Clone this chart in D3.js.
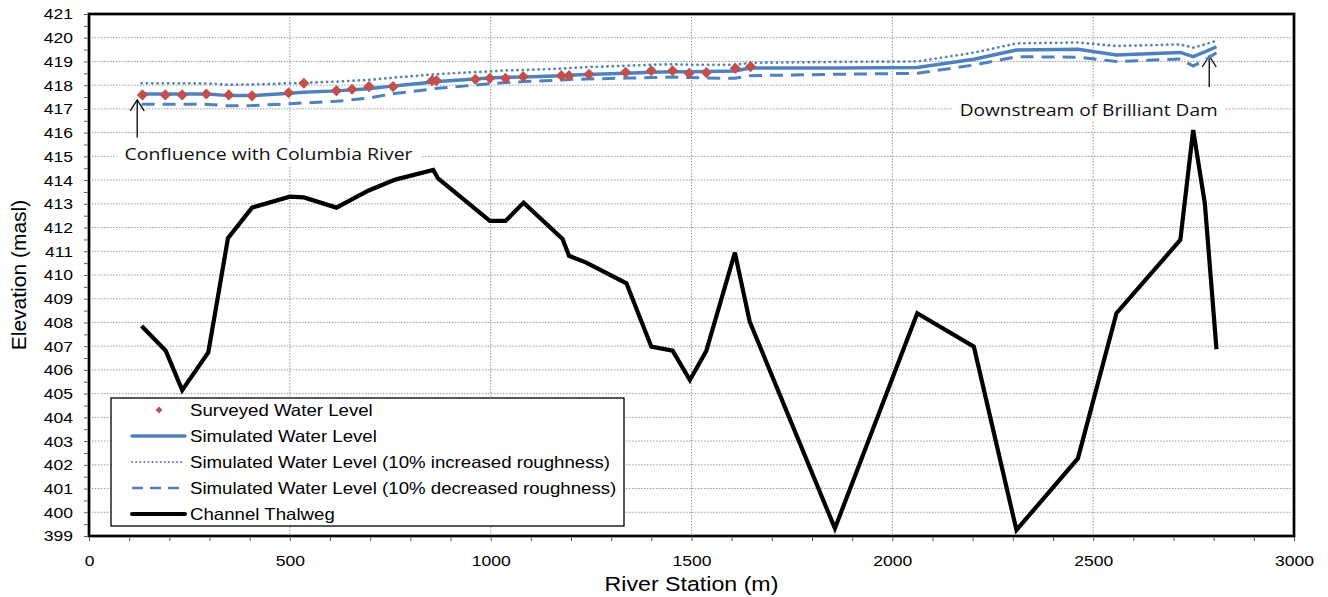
<!DOCTYPE html>
<html>
<head>
<meta charset="utf-8">
<script src="https://cdn.jsdelivr.net/npm/d3@7"></script>
<style>
  html, body { margin: 0; padding: 0; background: #fff; }
  svg { display: block; }
</style>
</head>
<body>
<svg id="chart" width="1328" height="597"></svg>
<script>
// River stations of the model cross-sections (m)
const stations = [131, 191, 232, 297, 346, 406, 500, 535, 616, 695, 749, 765, 857, 869,
  998, 1037, 1082, 1179, 1195, 1238, 1338, 1400, 1453, 1496, 1537, 1608, 1645,
  1857, 2062, 2203, 2309, 2462, 2558, 2717, 2749, 2778, 2807];

// Channel thalweg elevation (masl)
const thalweg = [407.85, 406.81, 405.15, 406.74, 411.55, 412.84, 413.30, 413.27, 412.84,
  413.55, 413.93, 414.03, 414.43, 414.07, 412.28, 412.28, 413.05, 411.52, 410.81, 410.52,
  409.65, 406.98, 406.81, 405.57, 406.81, 410.94, 408.03, 399.32, 408.39, 406.98, 399.25,
  402.27, 408.39, 411.48, 416.11, 413.02, 406.87];

// Simulated water level (masl)
const simulated = [417.63, 417.63, 417.63, 417.63, 417.56, 417.56, 417.66, 417.70, 417.76,
  417.85, 417.95, 417.98, 418.13, 418.16, 418.30, 418.33, 418.35, 418.40, 418.42, 418.45,
  418.50, 418.54, 418.57, 418.57, 418.58, 418.60, 418.72, 418.72, 418.75, 419.09, 419.48,
  419.51, 419.27, 419.38, 419.20, 419.40, 419.62];

// Simulated water level, 10% increased roughness (masl)
const simHigh = [418.08, 418.08, 418.08, 418.07, 418.02, 418.03, 418.08, 418.10, 418.15,
  418.22, 418.30, 418.33, 418.45, 418.47, 418.58, 418.62, 418.64, 418.70, 418.72, 418.76,
  418.82, 418.86, 418.88, 418.86, 418.86, 418.86, 418.94, 418.98, 419.00, 419.37, 419.76,
  419.80, 419.65, 419.72, 419.58, 419.72, 419.87];

// Simulated water level, 10% decreased roughness (masl)
const simLow = [417.20, 417.20, 417.20, 417.19, 417.13, 417.14, 417.22, 417.25, 417.32,
  417.45, 417.62, 417.66, 417.84, 417.87, 418.06, 418.11, 418.15, 418.22, 418.24, 418.26,
  418.30, 418.32, 418.34, 418.32, 418.30, 418.29, 418.40, 418.46, 418.50, 418.85, 419.20,
  419.18, 419.00, 419.10, 418.81, 419.05, 419.37];

// Surveyed water level: stations (m) and elevations (masl)
const surveyStations = [133, 190, 232, 292, 348, 406, 497, 535, 616, 655, 697, 757, 854, 865,
  962, 998, 1037, 1081, 1176, 1195, 1245, 1336, 1400, 1453, 1494, 1537, 1609, 1647];
const surveyLevels = [417.59, 417.59, 417.59, 417.63, 417.59, 417.55, 417.68, 418.08, 417.77,
  417.83, 417.94, 417.94, 418.19, 418.19, 418.25, 418.29, 418.29, 418.36, 418.40, 418.40,
  418.46, 418.54, 418.61, 418.61, 418.50, 418.53, 418.71, 418.78];

// Axis ticks
const xTicks = [0, 500, 1000, 1500, 2000, 2500, 3000];
const yTicks = d3.range(399, 422);

const legendLabels = [
  "Surveyed Water Level",
  "Simulated Water Level",
  "Simulated Water Level (10% increased roughness)",
  "Simulated Water Level (10% decreased roughness)",
  "Channel Thalweg"
];

const blue = "#4F81BD";
const red = "#C0504D";

const svg = d3.select("#chart");
const plotL = 89, plotR = 1294, plotT = 14, plotB = 536;

const x = d3.scaleLinear().domain([0, 3000]).range([plotL, plotR]);
const y = d3.scaleLinear().domain([399, 421]).range([plotB, plotT]);

// Horizontally widened lettering used throughout the chart
const WIDEN = 1.13;
function widen(sel) {
  sel.each(function () {
    const len = this.getComputedTextLength();
    if (len > 0) {
      d3.select(this).attr("textLength", len * WIDEN).attr("lengthAdjust", "spacingAndGlyphs");
    }
  });
}

// Grid lines
const grid = svg.append("g");
grid.selectAll("line.h").data(yTicks.filter(v => v > 399 && v < 421)).join("line")
  .attr("x1", plotL).attr("x2", plotR)
  .attr("y1", d => y(d)).attr("y2", d => y(d))
  .attr("stroke", "#9a9a9a").attr("stroke-width", 1).attr("stroke-dasharray", "1.5,1.5");
grid.selectAll("line.v").data(xTicks.filter(v => v > 0 && v < 3000)).join("line")
  .attr("x1", d => x(d)).attr("x2", d => x(d))
  .attr("y1", plotT).attr("y2", plotB)
  .attr("stroke", "#9a9a9a").attr("stroke-width", 1).attr("stroke-dasharray", "1.5,1.5");

// Annotations (text with white background over the grid)
const notes = [
  { text: "Confluence with Columbia River", st: 447, el: 415.1, width: 288,
    arrowSt: 120, tipEl: 417.38, baseEl: 415.8 },
  { text: "Downstream of Brilliant Dam", st: 2489, el: 416.95, width: 258,
    arrowSt: 2789, tipEl: 419.23, baseEl: 417.92 }
];
const noteG = svg.append("g");
notes.forEach(n => {
  const cx = x(n.st), cy = y(n.el);
  noteG.append("rect")
    .attr("x", cx - n.width / 2 - 8).attr("y", cy - 12)
    .attr("width", n.width + 16).attr("height", 24).attr("fill", "#fff");
  noteG.append("text")
    .attr("x", cx).attr("y", cy).attr("dy", "0.35em")
    .attr("text-anchor", "middle")
    .attr("font-family", "Open Sans, sans-serif").attr("font-size", 17)
    .attr("textLength", n.width).attr("lengthAdjust", "spacingAndGlyphs")
    .attr("fill", "#111").text(n.text);
  const ax = x(n.arrowSt), ty = y(n.tipEl), by = y(n.baseEl);
  noteG.append("line").attr("x1", ax).attr("x2", ax).attr("y1", by).attr("y2", ty)
    .attr("stroke", "#000").attr("stroke-width", 1.3);
  noteG.append("path")
    .attr("d", `M${ax - 7},${ty + 11}L${ax},${ty}L${ax + 7},${ty + 11}`)
    .attr("fill", "none").attr("stroke", "#000").attr("stroke-width", 1.3);
});

// Series lines
const line = d3.line().x(d => x(d[0])).y(d => y(d[1]));
const zip = vals => stations.map((s, i) => [s, vals[i]]);

svg.append("path").datum(zip(thalweg)).attr("d", line)
  .attr("fill", "none").attr("stroke", "#000").attr("stroke-width", 4.2)
  .attr("stroke-linejoin", "miter");
svg.append("path").datum(zip(simLow)).attr("d", line)
  .attr("fill", "none").attr("stroke", blue).attr("stroke-width", 3)
  .attr("stroke-dasharray", "13,8");
svg.append("path").datum(zip(simHigh)).attr("d", line)
  .attr("fill", "none").attr("stroke", blue).attr("stroke-width", 2.7)
  .attr("stroke-dasharray", "0.1,5.2").attr("stroke-linecap", "round");
svg.append("path").datum(zip(simulated)).attr("d", line)
  .attr("fill", "none").attr("stroke", blue).attr("stroke-width", 3.5);

// Surveyed points
const diamond = d3.symbol().type(d3.symbolSquare).size(62);
svg.append("g").selectAll("path")
  .data(surveyStations.map((s, i) => [s, surveyLevels[i]])).join("path")
  .attr("d", diamond)
  .attr("transform", d => `translate(${x(d[0])},${y(d[1])}) rotate(45)`)
  .attr("fill", red);

// Axes
const axisFont = "Liberation Sans, Arial, sans-serif";
const xAxis = svg.append("g").attr("transform", `translate(0,${plotB})`)
  .call(d3.axisBottom(x).tickValues(d3.range(0, 3001, 100)).tickSize(5)
    .tickFormat(d => xTicks.includes(d) ? d : ""));
xAxis.select(".domain").remove();
xAxis.selectAll("line").attr("stroke", "#555");
xAxis.selectAll("text").attr("font-family", axisFont).attr("font-size", 15.5)
  .attr("fill", "#000").attr("y", 19).attr("dy", "0.71em").call(widen);

const yAxis = svg.append("g").attr("transform", `translate(${plotL},0)`)
  .call(d3.axisLeft(y).tickValues(d3.range(399, 421.01, 0.5)).tickSize(5)
    .tickFormat(d => Number.isInteger(d) ? d : ""));
yAxis.select(".domain").remove();
yAxis.selectAll("line").attr("stroke", "#555");
yAxis.selectAll("text").attr("font-family", axisFont).attr("font-size", 15.5)
  .attr("fill", "#000").attr("x", -16).call(widen);

// Plot frame
svg.append("rect").attr("x", plotL).attr("y", plotT)
  .attr("width", plotR - plotL).attr("height", plotB - plotT)
  .attr("fill", "none").attr("stroke", "#888").attr("stroke-width", 3.5);
svg.append("rect").attr("x", plotL).attr("y", plotT)
  .attr("width", plotR - plotL).attr("height", plotB - plotT)
  .attr("fill", "none").attr("stroke", "#000").attr("stroke-width", 2);

// Axis titles
svg.append("text").attr("x", (plotL + plotR) / 2).attr("y", 591)
  .attr("text-anchor", "middle").attr("font-family", axisFont).attr("font-size", 20.5)
  .attr("fill", "#000").text("River Station (m)").call(widen);
svg.append("text").attr("transform", `translate(26,${(plotT + plotB) / 2}) rotate(-90)`)
  .attr("text-anchor", "middle").attr("font-family", axisFont).attr("font-size", 21)
  .attr("fill", "#000").text("Elevation (masl)");

// Legend
const lg = svg.append("g");
lg.append("rect").attr("x", 111).attr("y", 398).attr("width", 513).attr("height", 128)
  .attr("fill", "#fff").attr("stroke", "#000").attr("stroke-width", 1.3);
const rowY = i => 410 + i * 26;
const legendStyles = [
  null,
  { c: blue, w: 3.5, d: null, cap: "round" },
  { c: blue, w: 2, d: "0.1,4", cap: "round" },
  { c: blue, w: 2.6, d: "11,7", cap: "butt" },
  { c: "#000", w: 4, d: null, cap: "round" }
];
legendLabels.forEach((label, i) => {
  const ry = rowY(i);
  if (i === 0) {
    lg.append("path").attr("d", d3.symbol().type(d3.symbolSquare).size(24))
      .attr("transform", `translate(159,${ry}) rotate(45)`).attr("fill", red);
  } else {
    const s = legendStyles[i];
    lg.append("line").attr("x1", 132).attr("x2", 185).attr("y1", ry).attr("y2", ry)
      .attr("stroke", s.c).attr("stroke-width", s.w)
      .attr("stroke-dasharray", s.d).attr("stroke-linecap", s.cap);
  }
  lg.append("text").attr("x", 190).attr("y", ry).attr("dy", "0.35em")
    .attr("font-family", axisFont).attr("font-size", 16.5).attr("fill", "#000")
    .text(label).call(widen);
});
</script>
</body>
</html>
